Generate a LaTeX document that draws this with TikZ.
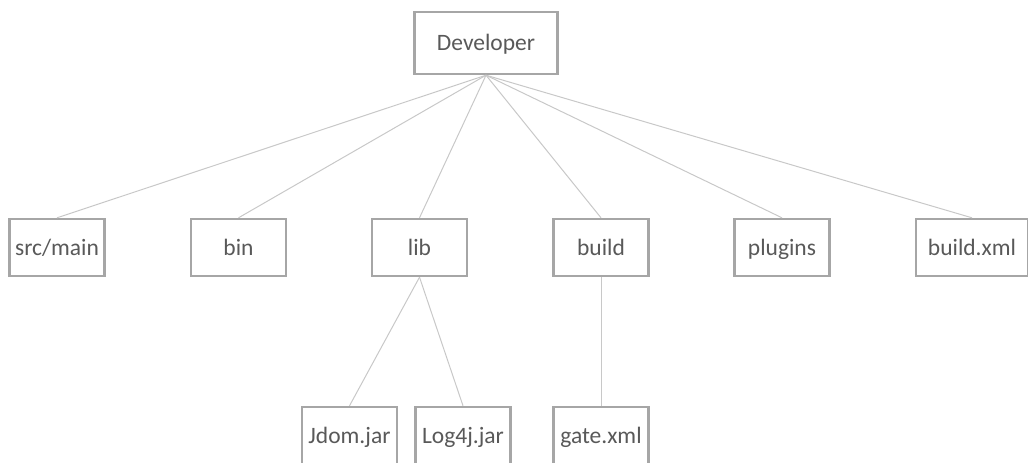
\documentclass[tikz,border=0pt]{standalone}
\usepackage{fontspec}
\setmainfont{Carlito}
\usepackage{tikz}
\definecolor{boxgray}{HTML}{A6A6A6}
\definecolor{linegray}{HTML}{C8C8C8}
\definecolor{textgray}{HTML}{595959}
\tikzset{
  dirbox/.style={draw=boxgray, line width=2.4pt, fill=white, minimum width=95pt,
    minimum height=57pt, inner sep=2pt, text=textgray, text height=18pt,
    text depth=3pt, font=\fontsize{23.5}{26}\selectfont},
  link/.style={draw=linegray, line width=1pt}
}

\begin{document}
\begin{tikzpicture}[x=1pt, y=-1pt]
  \useasboundingbox (0,0) rectangle (1028,463);
  \clip (0,0) rectangle (1028,463);
  \node[dirbox, minimum width=143pt, minimum height=62pt] (dev) at (486,43) {Developer}; %root
  % first level
  \node[dirbox] (src) at (57,247.5) {src/main};
  \node[dirbox] (bin) at (238.5,247.5) {bin};
  \node[dirbox] (lib) at (419.5,247.5) {lib};
  \node[dirbox] (build) at (601,247.5) {build};
  \node[dirbox] (plugins) at (782,247.5) {plugins};
  \node[dirbox, minimum width=112pt] (buildxml) at (972,247.5) {build.xml};
  % second level
  \node[dirbox] (jdom) at (349.5,435.5) {Jdom.jar};
  \node[dirbox] (log) at (463,435.5) {Log4j.jar};
  \node[dirbox] (gate) at (601,435.5) {gate.xml};
  % links
  \foreach \d in {src,bin,lib,build,plugins,buildxml}
    \draw[link] (dev.south) -- (\d.north);
  \draw[link] (lib.south) -- (jdom.north);
  \draw[link] (lib.south) -- (log.north);
  \draw[link] (build.south) -- (gate.north);
\end{tikzpicture}
\end{document}
